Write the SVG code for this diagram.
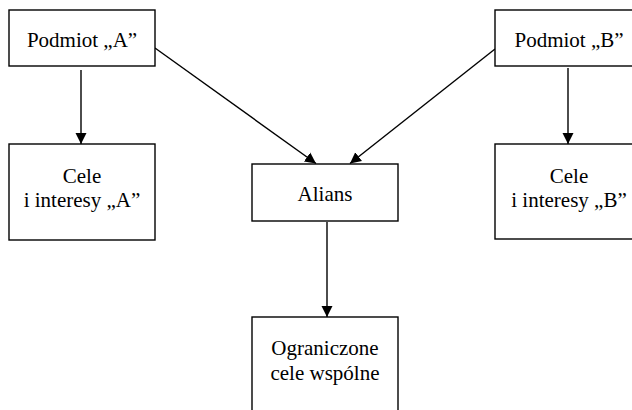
<svg xmlns="http://www.w3.org/2000/svg" width="632" height="410" viewBox="0 0 632 410">
<style>
.box{fill:#fff;stroke:#000;stroke-width:1.4}
.lbl{font-family:'Liberation Serif','Times New Roman',serif;font-size:21px;fill:#000;text-anchor:middle}
.con{stroke:#000;stroke-width:1.4;fill:none;marker-end:url(#arr)}
</style>
<defs>
<marker id="arr" markerUnits="userSpaceOnUse" markerWidth="12" markerHeight="12" viewBox="0 0 12 12" refX="11" refY="6" orient="auto">
<path d="M0,0.5 L11,6 L0,11.5 Z" fill="#000"/>
</marker>
</defs>
<rect width="632" height="410" fill="#fff"/>
<g id="connectors">
<line class="con" x1="81" y1="70" x2="81" y2="144"/>
<line class="con" x1="568" y1="68" x2="568" y2="144"/>
<line class="con" x1="155" y1="48" x2="316" y2="163.5"/>
<line class="con" x1="495" y1="49" x2="350" y2="163.5"/>
<line class="con" x1="327" y1="222" x2="327" y2="317"/>
</g>
<g id="podmiotA">
<rect class="box" x="9" y="10" width="146" height="56"/>
<text class="lbl" x="82" y="47">Podmiot „A”</text>
</g>
<g id="podmiotB">
<rect class="box" x="495" y="10" width="146" height="56"/>
<text class="lbl" x="569" y="47">Podmiot „B”</text>
</g>
<g id="celeA">
<rect class="box" x="9" y="144" width="146" height="96"/>
<text class="lbl" x="82" y="183">Cele</text>
<text class="lbl" x="82" y="207">i interesy „A”</text>
</g>
<g id="celeB">
<rect class="box" x="495" y="144" width="146" height="95"/>
<text class="lbl" x="569" y="183">Cele</text>
<text class="lbl" x="569" y="207">i interesy „B”</text>
</g>
<g id="alians">
<rect class="box" x="252" y="164" width="146" height="57"/>
<text class="lbl" x="325" y="201">Alians</text>
</g>
<g id="ograniczone">
<rect class="box" x="252" y="317" width="146" height="110"/>
<text class="lbl" x="325" y="355">Ograniczone</text>
<text class="lbl" x="325" y="380">cele wspólne</text>
</g>
</svg>
